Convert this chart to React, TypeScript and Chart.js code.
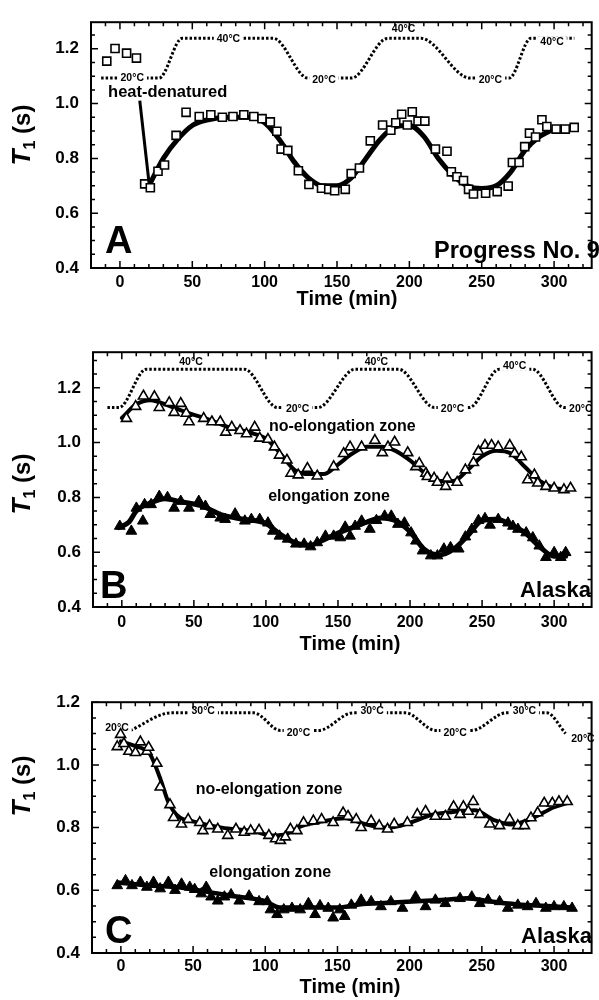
import React, { useEffect, useRef } from "react";
import { Chart, registerables } from "chart.js";

Chart.register(...registerables);

const FONT = "'Liberation Sans', Arial, Helvetica, sans-serif";

const xTickValues = [0, 50, 100, 150, 200, 250, 300];
const yTickValues = [0.4, 0.6, 0.8, 1.0, 1.2];

// ---------- Panel A (Progress No. 9) ----------
const aSquareTime = [-9.1, -3.4, 4.6, 11.4, 17.1, 21.0, 26.3, 30.8, 38.8, 45.7, 54.8, 62.8, 70.8, 78.1, 85.6, 92.5, 98.2, 103.9, 108.4, 111.4, 116.0, 123.3, 130.6, 139.3, 144.3, 148.4, 155.7, 159.8, 165.5, 173.0, 181.5, 187.2, 190.6, 194.7, 198.6, 202.0, 206.0, 210.7, 218.0, 226.0, 229.0, 232.9, 237.4, 240.9, 244.3, 252.7, 260.7, 268.3, 271.2, 275.8, 279.7, 283.0, 287.2, 291.6, 295.0, 301.4, 307.7, 313.9];
const aSquareT1 = [1.155, 1.201, 1.184, 1.166, 0.707, 0.693, 0.753, 0.776, 0.884, 0.968, 0.953, 0.959, 0.950, 0.953, 0.959, 0.953, 0.945, 0.933, 0.899, 0.834, 0.829, 0.755, 0.705, 0.691, 0.687, 0.682, 0.687, 0.745, 0.765, 0.864, 0.922, 0.903, 0.930, 0.961, 0.922, 0.970, 0.936, 0.936, 0.834, 0.826, 0.751, 0.733, 0.719, 0.687, 0.670, 0.673, 0.679, 0.699, 0.785, 0.785, 0.843, 0.892, 0.878, 0.941, 0.916, 0.907, 0.907, 0.913];
const aFitTime = [20, 30, 40, 50, 60, 75, 90, 100, 110, 120, 130, 140, 150, 160, 170, 180, 190, 200, 210, 220, 230, 240, 250, 260, 270, 280, 290, 297];
const aFitT1 = [0.70, 0.80, 0.87, 0.92, 0.94, 0.95, 0.95, 0.93, 0.87, 0.79, 0.73, 0.70, 0.70, 0.73, 0.80, 0.87, 0.915, 0.92, 0.88, 0.80, 0.74, 0.70, 0.69, 0.70, 0.75, 0.83, 0.88, 0.90];
const aTempTime = [-13, 27, 43, 106, 130, 160, 185, 208, 242, 269, 284, 314];
const aTempT1 = [1.093, 1.093, 1.238, 1.238, 1.093, 1.093, 1.238, 1.238, 1.093, 1.093, 1.238, 1.238];
const aTempLabels = ["20°C", "40°C", "20°C", "40°C", "20°C", "40°C"];
const aTempLabelTime = [8.5, 75, 141, 196, 256, 298.6];
const aTempLabelT1 = [1.093, 1.238, 1.088, 1.272, 1.088, 1.226];

// ---------- Panel B (Alaska, 20/40 °C) ----------
const bOpenTime = [3.2, 9.6, 15.0, 22.6, 26.0, 32.9, 36.3, 40.9, 44.7, 46.6, 56.8, 62.5, 68.3, 72.1, 76.3, 82.0, 86.5, 92.2, 95.7, 101.4, 105.9, 109.4, 114.6, 117.4, 122.4, 128.8, 135.6, 147.0, 153.9, 158.4, 166.4, 175.6, 180.8, 184.7, 189.3, 198.4, 204.0, 206.4, 211.0, 212.0, 216.7, 219.0, 224.7, 225.8, 232.7, 238.4, 244.0, 247.5, 252.0, 256.6, 261.2, 269.2, 272.6, 277.2, 281.7, 286.3, 288.6, 294.3, 300.0, 306.8, 311.4];
const bOpenT1 = [1.088, 1.132, 1.170, 1.168, 1.128, 1.146, 1.110, 1.143, 1.107, 1.076, 1.088, 1.076, 1.076, 1.038, 1.056, 1.044, 1.032, 1.056, 1.016, 1.012, 0.984, 0.954, 0.936, 0.888, 0.882, 0.906, 0.878, 0.912, 0.960, 0.984, 0.984, 1.008, 0.963, 0.984, 1.002, 0.963, 0.912, 0.924, 0.888, 0.876, 0.870, 0.855, 0.840, 0.870, 0.855, 0.900, 0.927, 0.968, 0.990, 0.990, 0.984, 0.990, 0.960, 0.948, 0.864, 0.882, 0.852, 0.840, 0.834, 0.828, 0.834];
const bFilledTime = [-1.4, 6.6, 10.1, 14.6, 15.8, 20.3, 26.0, 31.7, 36.3, 40.9, 46.6, 53.4, 58.0, 61.4, 68.3, 71.7, 78.6, 85.4, 89.9, 95.7, 101.4, 104.8, 109.4, 115.1, 120.8, 126.5, 131.0, 135.6, 141.3, 147.0, 151.6, 155.0, 158.4, 161.9, 166.4, 172.1, 176.7, 182.4, 187.0, 191.6, 196.1, 200.7, 204.1, 208.7, 214.4, 219.0, 223.5, 228.1, 233.8, 238.4, 242.9, 247.5, 252.0, 255.5, 261.2, 268.0, 271.4, 274.9, 280.6, 285.2, 289.7, 294.3, 300.0, 304.6, 308.0];
const bFilledT1 = [0.695, 0.677, 0.761, 0.714, 0.774, 0.774, 0.804, 0.800, 0.761, 0.786, 0.761, 0.786, 0.768, 0.738, 0.725, 0.720, 0.740, 0.714, 0.720, 0.720, 0.707, 0.677, 0.659, 0.648, 0.630, 0.630, 0.620, 0.635, 0.659, 0.659, 0.653, 0.692, 0.659, 0.695, 0.714, 0.684, 0.716, 0.732, 0.732, 0.702, 0.707, 0.671, 0.641, 0.605, 0.587, 0.587, 0.612, 0.617, 0.612, 0.656, 0.684, 0.716, 0.723, 0.699, 0.720, 0.707, 0.695, 0.684, 0.671, 0.653, 0.623, 0.581, 0.599, 0.581, 0.599];
const bFitNoTime = [0, 10, 20, 30, 45, 60, 75, 90, 100, 110, 120, 130, 140, 150, 160, 170, 180, 190, 200, 210, 220, 230, 240, 250, 260, 270, 280, 290, 300, 310];
const bFitNoT1 = [1.09, 1.14, 1.155, 1.14, 1.11, 1.085, 1.055, 1.035, 1.015, 0.96, 0.90, 0.885, 0.885, 0.92, 0.96, 0.985, 0.985, 0.97, 0.935, 0.89, 0.86, 0.86, 0.90, 0.95, 0.97, 0.96, 0.91, 0.86, 0.835, 0.83];
const bFitElTime = [-2, 5, 10, 20, 30, 40, 55, 70, 85, 100, 110, 120, 130, 140, 150, 160, 170, 180, 190, 200, 210, 220, 230, 240, 250, 260, 270, 280, 290, 300, 308];
const bFitElT1 = [0.69, 0.71, 0.75, 0.78, 0.795, 0.785, 0.77, 0.735, 0.72, 0.705, 0.665, 0.635, 0.625, 0.645, 0.67, 0.69, 0.71, 0.725, 0.715, 0.675, 0.61, 0.59, 0.61, 0.66, 0.715, 0.72, 0.70, 0.67, 0.62, 0.585, 0.585];
const bTempTime = [-10, -2, 17, 85, 108, 136, 162, 192, 217, 241, 262, 285, 307, 325];
const bTempT1 = [1.128, 1.128, 1.268, 1.268, 1.128, 1.128, 1.268, 1.268, 1.128, 1.128, 1.268, 1.268, 1.128, 1.128];
const bTempLabels = ["40°C", "20°C", "40°C", "20°C", "40°C", "20°C"];
const bTempLabelTime = [48, 122, 176.7, 229.5, 272.6, 318.5];
const bTempLabelT1 = [1.295, 1.124, 1.295, 1.124, 1.28, 1.124];

// ---------- Panel C (Alaska, 20/30 °C) ----------
const cOpenTime = [-2.5, -0.2, 2.1, 5.5, 10.1, 13.5, 18.0, 19.2, 24.9, 27.2, 34.0, 36.5, 42.0, 46.6, 54.6, 56.8, 61.4, 67.1, 74.0, 79.7, 85.4, 89.9, 95.7, 102.5, 107.1, 110.5, 113.9, 117.4, 121.9, 126.5, 133.3, 139.0, 147.0, 153.9, 157.3, 163.0, 166.4, 173.3, 178.9, 184.7, 189.3, 198.4, 205.3, 211.0, 217.8, 224.7, 230.4, 234.9, 237.2, 240.6, 244.0, 248.6, 255.5, 262.3, 269.2, 274.9, 279.5, 284.0, 288.6, 293.2, 298.8, 303.4, 309.1];
const cOpenT1 = [1.058, 1.097, 1.068, 1.043, 1.039, 1.073, 1.043, 1.056, 1.005, 0.929, 0.873, 0.832, 0.811, 0.826, 0.816, 0.790, 0.806, 0.795, 0.775, 0.795, 0.785, 0.790, 0.792, 0.775, 0.764, 0.759, 0.770, 0.795, 0.790, 0.816, 0.821, 0.826, 0.816, 0.847, 0.836, 0.826, 0.800, 0.821, 0.806, 0.795, 0.811, 0.816, 0.842, 0.852, 0.836, 0.836, 0.867, 0.842, 0.867, 0.852, 0.883, 0.842, 0.811, 0.806, 0.826, 0.806, 0.806, 0.831, 0.847, 0.878, 0.878, 0.883, 0.883];
const cFilledTime = [-2.5, 3.2, 7.7, 13.5, 18.0, 22.6, 27.2, 32.9, 37.5, 42.0, 47.7, 51.1, 55.7, 59.1, 62.5, 67.1, 71.7, 76.3, 82.0, 88.8, 95.7, 101.4, 103.6, 108.2, 112.8, 118.5, 124.2, 129.9, 134.5, 137.9, 143.6, 147.0, 151.6, 155.0, 159.6, 166.4, 173.3, 180.1, 187.0, 195.0, 204.1, 211.0, 217.8, 224.7, 234.9, 243.0, 248.6, 254.3, 262.3, 268.0, 274.9, 281.7, 287.5, 294.3, 300.0, 306.8, 312.5];
const cFilledT1 = [0.615, 0.631, 0.615, 0.626, 0.610, 0.626, 0.605, 0.626, 0.600, 0.620, 0.610, 0.603, 0.589, 0.610, 0.579, 0.566, 0.579, 0.586, 0.566, 0.582, 0.564, 0.564, 0.538, 0.523, 0.538, 0.543, 0.538, 0.558, 0.523, 0.551, 0.543, 0.512, 0.538, 0.517, 0.553, 0.569, 0.564, 0.548, 0.564, 0.543, 0.579, 0.548, 0.569, 0.558, 0.574, 0.579, 0.558, 0.569, 0.564, 0.543, 0.553, 0.548, 0.558, 0.543, 0.548, 0.548, 0.543];
const cFitNoTime = [0, 10, 20, 27, 33, 40, 50, 70, 90, 105, 115, 125, 140, 155, 170, 185, 200, 215, 230, 245, 258, 270, 285, 300, 310];
const cFitNoT1 = [1.075, 1.06, 1.035, 0.96, 0.88, 0.835, 0.82, 0.80, 0.79, 0.775, 0.78, 0.805, 0.82, 0.83, 0.81, 0.80, 0.815, 0.84, 0.85, 0.855, 0.825, 0.81, 0.83, 0.865, 0.88];
const cFitElTime = [-2, 20, 40, 60, 80, 100, 110, 130, 150, 165, 185, 205, 225, 240, 255, 275, 295, 312];
const cFitElT1 = [0.625, 0.615, 0.61, 0.595, 0.58, 0.565, 0.545, 0.545, 0.545, 0.555, 0.56, 0.565, 0.57, 0.575, 0.565, 0.555, 0.55, 0.545];
const cTempTime = [6.6, 35, 92, 110.5, 137, 160.7, 197, 218, 243, 267, 295, 308];
const cTempT1 = [1.11, 1.166, 1.166, 1.11, 1.11, 1.166, 1.166, 1.11, 1.11, 1.166, 1.166, 1.10];
const cTempLabels = ["20°C", "30°C", "20°C", "30°C", "20°C", "30°C", "20°C"];
const cTempLabelTime = [-2.7, 57, 123, 174, 231.5, 279.5, 320];
const cTempLabelT1 = [1.12, 1.172, 1.104, 1.172, 1.104, 1.172, 1.083];

const zip = (xs: number[], ys: number[]) => xs.map((x, i) => ({ x, y: ys[i] }));

type Mark = { time: number[]; t1: number[]; style: string; r: number; fill: string; bw: number };
type Fit = { time: number[]; t1: number[]; width: number };
type Note = { text: string; t: number; v: number; font: string; align: CanvasTextAlign };

type PanelCfg = {
  key: string;
  top: number;
  height: number;
  areaTop: number;
  areaLeft: number;
  xAxisH: number;
  yMax: number;
  xLabelPad: number;
  temp: { time: number[]; t1: number[]; labels: string[]; lt: number[]; lv: number[] };
  fits: Fit[];
  marks: Mark[];
  notes: Note[];
  pointer?: { t0: number; v0: number; t1: number; v1: number };
  letter: { text: string; x: number; y: number };
  site: { text: string; x: number; y: number; align: CanvasTextAlign; size: number };
  yTitleY: number;
  xTitle: { x: number; y: number };
};

const panels: PanelCfg[] = [
  {
    key: "A", top: 0, height: 312, areaTop: 9, areaLeft: 91, xAxisH: 44, yMax: 1.297, xLabelPad: 5,
    temp: { time: aTempTime, t1: aTempT1, labels: aTempLabels, lt: aTempLabelTime, lv: aTempLabelT1 },
    fits: [{ time: aFitTime, t1: aFitT1, width: 5 }],
    marks: [{ time: aSquareTime, t1: aSquareT1, style: "rect", r: 5.7, fill: "#fff", bw: 1.6 }],
    notes: [{ text: "heat-denatured", t: -8.2, v: 1.023, font: `bold 16.5px ${FONT}`, align: "left" }],
    pointer: { t0: 13.7, v0: 1.011, t1: 20.1, v1: 0.711 },
    letter: { text: "A", x: 105, y: 253 },
    site: { text: "Progress No. 9", x: 434, y: 258, align: "left", size: 23.5 },
    yTitleY: 135,
    xTitle: { x: 347, y: 305 },
  },
  {
    key: "B", top: 330, height: 330, areaTop: 19, areaLeft: 93, xAxisH: 53, yMax: 1.33, xLabelPad: 6,
    temp: { time: bTempTime, t1: bTempT1, labels: bTempLabels, lt: bTempLabelTime, lv: bTempLabelT1 },
    fits: [
      { time: bFitNoTime, t1: bFitNoT1, width: 4 },
      { time: bFitElTime, t1: bFitElT1, width: 5 },
    ],
    marks: [
      { time: bOpenTime, t1: bOpenT1, style: "triangle", r: 5.8, fill: "#fff", bw: 1.6 },
      { time: bFilledTime, t1: bFilledT1, style: "triangle", r: 6.2, fill: "#000", bw: 1 },
    ],
    notes: [
      { text: "no-elongation zone", t: 153, v: 1.041, font: `bold 16px ${FONT}`, align: "center" },
      { text: "elongation zone", t: 143.8, v: 0.786, font: `bold 16px ${FONT}`, align: "center" },
    ],
    letter: { text: "B", x: 100, y: 268 },
    site: { text: "Alaska", x: 591, y: 267, align: "right", size: 22 },
    yTitleY: 154,
    xTitle: { x: 350, y: 320 },
  },
  {
    key: "C", top: 680, height: 320, areaTop: 14, areaLeft: 92, xAxisH: 47, yMax: 1.2, xLabelPad: 4,
    temp: { time: cTempTime, t1: cTempT1, labels: cTempLabels, lt: cTempLabelTime, lv: cTempLabelT1 },
    fits: [
      { time: cFitNoTime, t1: cFitNoT1, width: 4 },
      { time: cFitElTime, t1: cFitElT1, width: 4.5 },
    ],
    marks: [
      { time: cOpenTime, t1: cOpenT1, style: "triangle", r: 5.8, fill: "#fff", bw: 1.6 },
      { time: cFilledTime, t1: cFilledT1, style: "triangle", r: 6.2, fill: "#000", bw: 1 },
    ],
    notes: [
      { text: "no-elongation zone", t: 102.7, v: 0.907, font: `bold 16px ${FONT}`, align: "center" },
      { text: "elongation zone", t: 103.4, v: 0.644, font: `bold 16px ${FONT}`, align: "center" },
    ],
    letter: { text: "C", x: 105, y: 263 },
    site: { text: "Alaska", x: 592, y: 263, align: "right", size: 22 },
    yTitleY: 106,
    xTitle: { x: 350, y: 313 },
  },
];

function makeDecor(p: PanelCfg) {
  return {
    id: "decor" + p.key,
    afterDatasetDraw(chart: any, args: any) {
      if (args.index !== 0) return;
      const ctx = chart.ctx as CanvasRenderingContext2D;
      const xs = chart.scales.x;
      const ys = chart.scales.y;
      ctx.save();
      ctx.font = `bold 10.5px ${FONT}`;
      ctx.textAlign = "center";
      ctx.textBaseline = "middle";
      p.temp.labels.forEach((lab, i) => {
        const px = xs.getPixelForValue(p.temp.lt[i]);
        const py = ys.getPixelForValue(p.temp.lv[i]);
        const w = ctx.measureText(lab).width;
        ctx.fillStyle = "#fff";
        ctx.fillRect(px - w / 2 - 3, py - 5, w + 6, 10);
        ctx.fillStyle = "#000";
        ctx.fillText(lab, px, py + 0.5);
      });
      ctx.restore();
    },
    afterDraw(chart: any) {
      const ctx = chart.ctx as CanvasRenderingContext2D;
      const { left, right, top, bottom } = chart.chartArea;
      const xs = chart.scales.x;
      const ys = chart.scales.y;
      ctx.save();
      ctx.strokeStyle = "#000";
      ctx.fillStyle = "#000";
      // inward ticks on all four sides
      ctx.lineWidth = 1.5;
      ctx.beginPath();
      for (let k = -1; k <= 32; k++) {
        const v = k * 10;
        const px = xs.getPixelForValue(v);
        if (px < left + 1 || px > right - 1) continue;
        const L = v % 50 === 0 ? 7 : 4;
        ctx.moveTo(px, bottom);
        ctx.lineTo(px, bottom - L);
        ctx.moveTo(px, top);
        ctx.lineTo(px, top + L);
      }
      for (let k = 0; k < 40; k++) {
        const v = 0.4 + k * 0.05;
        if (v > ys.max + 1e-6) break;
        const py = ys.getPixelForValue(v);
        const L = k % 4 === 0 ? 7 : 4;
        ctx.moveTo(left, py);
        ctx.lineTo(left + L, py);
        ctx.moveTo(right, py);
        ctx.lineTo(right - L, py);
      }
      ctx.stroke();
      // frame
      ctx.lineWidth = 2;
      ctx.strokeRect(left, top, right - left, bottom - top);

      // pointer line
      if (p.pointer) {
        ctx.lineWidth = 3;
        ctx.beginPath();
        ctx.moveTo(xs.getPixelForValue(p.pointer.t0), ys.getPixelForValue(p.pointer.v0));
        ctx.lineTo(xs.getPixelForValue(p.pointer.t1), ys.getPixelForValue(p.pointer.v1));
        ctx.stroke();
      }

      // notes
      ctx.textBaseline = "alphabetic";
      p.notes.forEach((n) => {
        ctx.font = n.font;
        ctx.textAlign = n.align;
        ctx.fillText(n.text, xs.getPixelForValue(n.t), ys.getPixelForValue(n.v));
      });

      // panel letter
      ctx.font = `bold 38px ${FONT}`;
      ctx.textAlign = "left";
      ctx.fillText(p.letter.text, p.letter.x, p.letter.y);

      // site name
      ctx.font = `bold ${p.site.size}px ${FONT}`;
      ctx.textAlign = p.site.align;
      ctx.fillText(p.site.text, p.site.x, p.site.y);

      // x title
      ctx.font = `bold 20px ${FONT}`;
      ctx.textAlign = "center";
      ctx.fillText("Time (min)", p.xTitle.x, p.xTitle.y);

      // y title: T1 (s) with italic T and subscript 1
      ctx.translate(30, p.yTitleY);
      ctx.rotate(-Math.PI / 2);
      const fT = `italic bold 26px ${FONT}`;
      const fSub = `bold 16px ${FONT}`;
      const fRest = `bold 24px ${FONT}`;
      ctx.font = fT;
      const wT = ctx.measureText("T").width;
      ctx.font = fSub;
      const wSub = ctx.measureText("1").width;
      ctx.font = fRest;
      const wRest = ctx.measureText(" (s)").width;
      const x0 = -(wT + wSub + wRest) / 2;
      ctx.textAlign = "left";
      ctx.font = fT;
      ctx.fillText("T", x0, 0);
      ctx.font = fSub;
      ctx.fillText("1", x0 + wT, 5);
      ctx.font = fRest;
      ctx.fillText(" (s)", x0 + wT + wSub, 0);
      ctx.restore();
    },
  };
}

function Panel({ p }: { p: PanelCfg }) {
  const ref = useRef<HTMLCanvasElement>(null);
  useEffect(() => {
    const datasets: any[] = [];
    datasets.push({
      data: zip(p.temp.time, p.temp.t1),
      borderColor: "#000",
      borderWidth: 3,
      borderDash: [2.5, 2],
      borderCapStyle: "butt",
      pointRadius: 0,
      cubicInterpolationMode: "monotone",
      fill: false,
      order: 10,
    });
    p.fits.forEach((f) =>
      datasets.push({
        data: zip(f.time, f.t1),
        borderColor: "#000",
        borderWidth: f.width,
        borderCapStyle: "round",
        borderJoinStyle: "round",
        pointRadius: 0,
        cubicInterpolationMode: "monotone",
        fill: false,
        order: 5,
      })
    );
    p.marks.forEach((m) =>
      datasets.push({
        data: zip(m.time, m.t1),
        showLine: false,
        pointStyle: m.style,
        pointRadius: m.r,
        pointBackgroundColor: m.fill,
        pointBorderColor: "#000",
        pointBorderWidth: m.bw,
        order: 1,
      })
    );
    const chart = new Chart(ref.current as HTMLCanvasElement, {
      type: "line",
      data: { datasets },
      options: {
        animation: false,
        responsive: false,
        devicePixelRatio: 1,
        events: [],
        layout: { padding: { top: p.areaTop, right: 1, left: 0, bottom: 0 } },
        plugins: { legend: { display: false }, tooltip: { enabled: false } },
        scales: {
          x: {
            type: "linear",
            min: -20,
            max: 326,
            afterBuildTicks: (s: any) => {
              s.ticks = xTickValues.map((v) => ({ value: v }));
            },
            afterFit: (s: any) => {
              s.height = p.xAxisH;
            },
            grid: { display: false, drawTicks: false },
            border: { display: false },
            ticks: {
              padding: p.xLabelPad,
              color: "#000",
              maxRotation: 0,
              autoSkip: false,
              font: { family: FONT, size: 16, weight: "bold" },
              callback: (v: any) => String(v),
            },
          },
          y: {
            type: "linear",
            min: 0.4,
            max: p.yMax,
            afterBuildTicks: (s: any) => {
              s.ticks = yTickValues.map((v) => ({ value: v }));
            },
            afterFit: (s: any) => {
              s.width = p.areaLeft;
            },
            grid: { display: false, drawTicks: false },
            border: { display: false },
            ticks: {
              padding: 12,
              color: "#000",
              autoSkip: false,
              font: { family: FONT, size: 17, weight: "bold" },
              callback: (v: any) => Number(v).toFixed(1),
            },
          },
        },
      } as any,
      plugins: [makeDecor(p)],
    });
    return () => chart.destroy();
  }, []);
  return (
    <canvas
      ref={ref}
      width={599}
      height={p.height}
      style={{ position: "absolute", left: 0, top: p.top, width: 599, height: p.height }}
    />
  );
}

export default function App() {
  return (
    <div style={{ position: "absolute", left: 0, top: 0, width: 599, height: 1000, background: "#fff", overflow: "hidden" }}>
      {panels.map((p) => (
        <Panel key={p.key} p={p} />
      ))}
    </div>
  );
}
